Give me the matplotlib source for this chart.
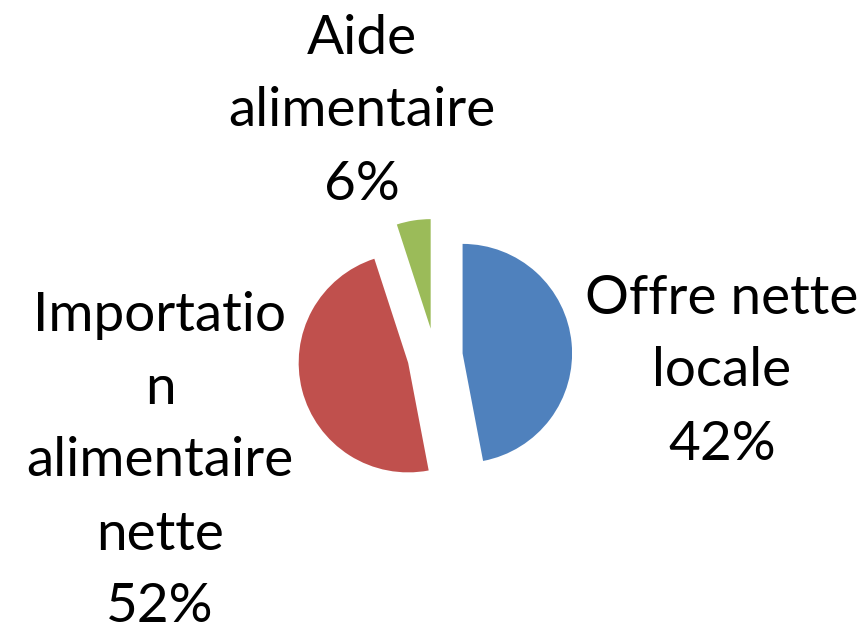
import matplotlib
matplotlib.use("Agg")
import matplotlib.pyplot as plt

# slice sizes as drawn, and the label texts shown on the chart
categories = ["Offre nette locale", "Importation alimentaire nette", "Aide alimentaire"]
slice_values = [47, 48, 5]
label_texts = ["Offre nette\nlocale\n42%",
               "Importatio\nn\nalimentaire\nnette\n52%",
               "Aide\nalimentaire\n6%"]
colors = ["#4F81BD", "#C0504D", "#9BBB59"]

W, H = 865, 630
fig = plt.figure(figsize=(W / 100, H / 100), dpi=100)
ax = fig.add_axes([0, 0, 1, 1])

# explode is given in data units here (axes are in pixels)
ax.pie(slice_values, colors=colors, startangle=90, counterclock=False,
       center=(435, 274), radius=109.5, explode=[27.7] * 3,
       wedgeprops=dict(linewidth=0), frame=True)
ax.set_xlim(0, W)
ax.set_ylim(0, H)
ax.set_axis_off()

label_pos = [(722, 259), (160, 169), (362, 519)]
for txt, (x, y) in zip(label_texts, label_pos):
    ax.text(x, y, txt, ha="center", va="center", multialignment="center",
            fontsize=39.5, family="Lato", linespacing=1.6, color="black")

fig.savefig("out.png", dpi=100)
